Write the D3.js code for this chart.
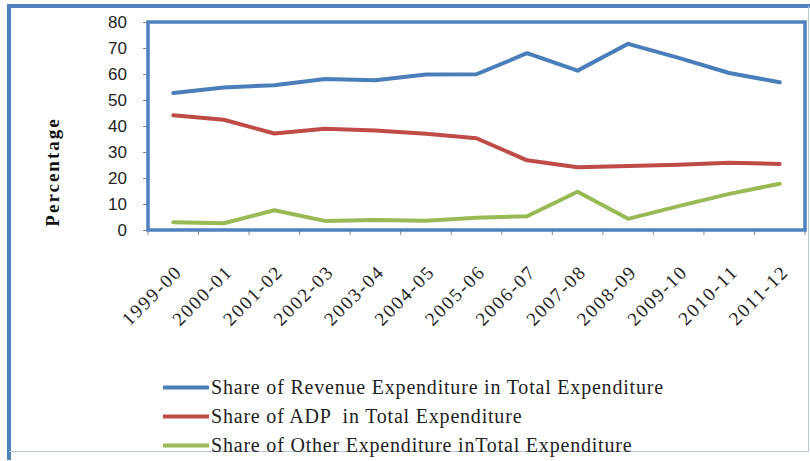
<!DOCTYPE html>
<html>
<head>
<meta charset="utf-8">
<script src="https://cdn.jsdelivr.net/npm/d3@7.9.0/dist/d3.min.js"></script>
<style>
  body { margin: 0; background: #fff; }
  svg { display: block; }
  .serif { font-family: 'Liberation Serif', 'DejaVu Serif', 'Times New Roman', serif; }
  .sans { font-family: 'Liberation Sans', Arial, sans-serif; }
</style>
</head>
<body>
<svg id="chart" width="810" height="461"></svg>
<script>
// --- data ---
const years = ['1999-00', '2000-01', '2001-02', '2002-03', '2003-04', '2004-05', '2005-06',
  '2006-07', '2007-08', '2008-09', '2009-10', '2010-11', '2011-12'];

const revenueShare = [52.7, 54.8, 55.7, 58.1, 57.6, 59.8, 59.9, 68.0, 61.3, 71.6, 66.2, 60.4, 56.8];
const adpShare = [44.1, 42.4, 37.1, 38.9, 38.3, 37.0, 35.3, 26.8, 24.1, 24.6, 25.1, 25.9, 25.4];
const otherShare = [3.0, 2.6, 7.6, 3.5, 3.8, 3.6, 4.7, 5.3, 14.7, 4.3, 9.2, 13.9, 17.8];

const yTicks = [0, 10, 20, 30, 40, 50, 60, 70, 80];

const seriesNames = [
  'Share of Revenue Expenditure in Total Expenditure',
  'Share of ADP  in Total Expenditure',
  'Share of Other Expenditure inTotal Expenditure'
];
const seriesColors = ['#4a7ebb', '#be4b48', '#98b954'];
const seriesValues = [revenueShare, adpShare, otherShare];

const svg = d3.select('#chart');
const frameBlue = '#4f81bd';

// outer chart frame (bottom and right are cut off in the picture)
svg.append('path')
  .attr('d', 'M9,460 L9,6 L814,6')
  .attr('fill', 'none')
  .attr('stroke', frameBlue)
  .attr('stroke-width', 4);
svg.append('path')
  .attr('d', 'M9,451.5 L808.5,451.5 L808.5,6')
  .attr('fill', 'none')
  .attr('stroke', '#b4c8e2')
  .attr('stroke-width', 1);

// scales
const x = d3.scaleBand().domain(years).range([148, 805]);
const y = d3.scaleLinear().domain([0, 80]).range([230, 22]);

// y axis ticks + labels
const yAxis = svg.append('g').attr('transform', 'translate(148,0)')
  .call(d3.axisLeft(y).tickValues(yTicks).tickSize(5).tickPadding(16).tickFormat(d3.format('d')));
yAxis.select('.domain').remove();
yAxis.selectAll('line').attr('stroke', '#888');
yAxis.selectAll('text')
  .attr('class', 'sans')
  .attr('font-family', null)
  .style('font-size', '17px')
  .attr('fill', '#222');

// x axis ticks (on category boundaries)
svg.append('g').selectAll('line')
  .data(years.concat(['end']))
  .join('line')
  .attr('x1', (d, i) => i < years.length ? x(d) : x.range()[1])
  .attr('x2', (d, i) => i < years.length ? x(d) : x.range()[1])
  .attr('y1', 230).attr('y2', 235)
  .attr('stroke', '#888');

// rotated category labels
svg.append('g').selectAll('text')
  .data(years)
  .join('text')
  .attr('class', 'serif')
  .attr('transform', d => `translate(${x(d) + x.bandwidth() / 2 + 10},273) rotate(-45)`)
  .attr('text-anchor', 'end')
  .style('font-size', '19px')
  .style('letter-spacing', '1.8px')
  .attr('fill', '#222')
  .text(d => d);

// y axis title
svg.append('text')
  .attr('class', 'serif')
  .attr('transform', 'translate(59,172) rotate(-90)')
  .attr('text-anchor', 'middle')
  .style('font-weight', 'bold')
  .style('font-size', '19px')
  .style('letter-spacing', '2px')
  .attr('fill', '#111')
  .text('Percentage');

// lines
const line = d3.line()
  .x((d, i) => x(years[i]) + x.bandwidth() / 2)
  .y(d => y(d));

svg.append('g').selectAll('path')
  .data(seriesValues)
  .join('path')
  .attr('d', d => line(d))
  .attr('fill', 'none')
  .attr('stroke', (d, i) => seriesColors[i])
  .attr('stroke-width', 4)
  .attr('stroke-linejoin', 'round')
  .attr('stroke-linecap', 'round');

// plot area frame
svg.append('rect')
  .attr('x', 148).attr('y', 22)
  .attr('width', 805 - 148).attr('height', 230 - 22)
  .attr('fill', 'none')
  .attr('stroke', frameBlue)
  .attr('stroke-width', 3.5);

// legend
const legend = svg.append('g').selectAll('g')
  .data(seriesNames)
  .join('g')
  .attr('transform', (d, i) => `translate(163,${387.5 + i * 29})`);

legend.append('line')
  .attr('x1', 0).attr('x2', 46)
  .attr('stroke', (d, i) => seriesColors[i])
  .attr('stroke-width', 4);

legend.append('text')
  .attr('class', 'serif')
  .attr('x', 48).attr('y', 6)
  .style('font-size', '20px')
  .style('letter-spacing', '0.8px')
  .style('white-space', 'pre')
  .attr('fill', '#222')
  .text(d => d);
</script>
</body>
</html>
